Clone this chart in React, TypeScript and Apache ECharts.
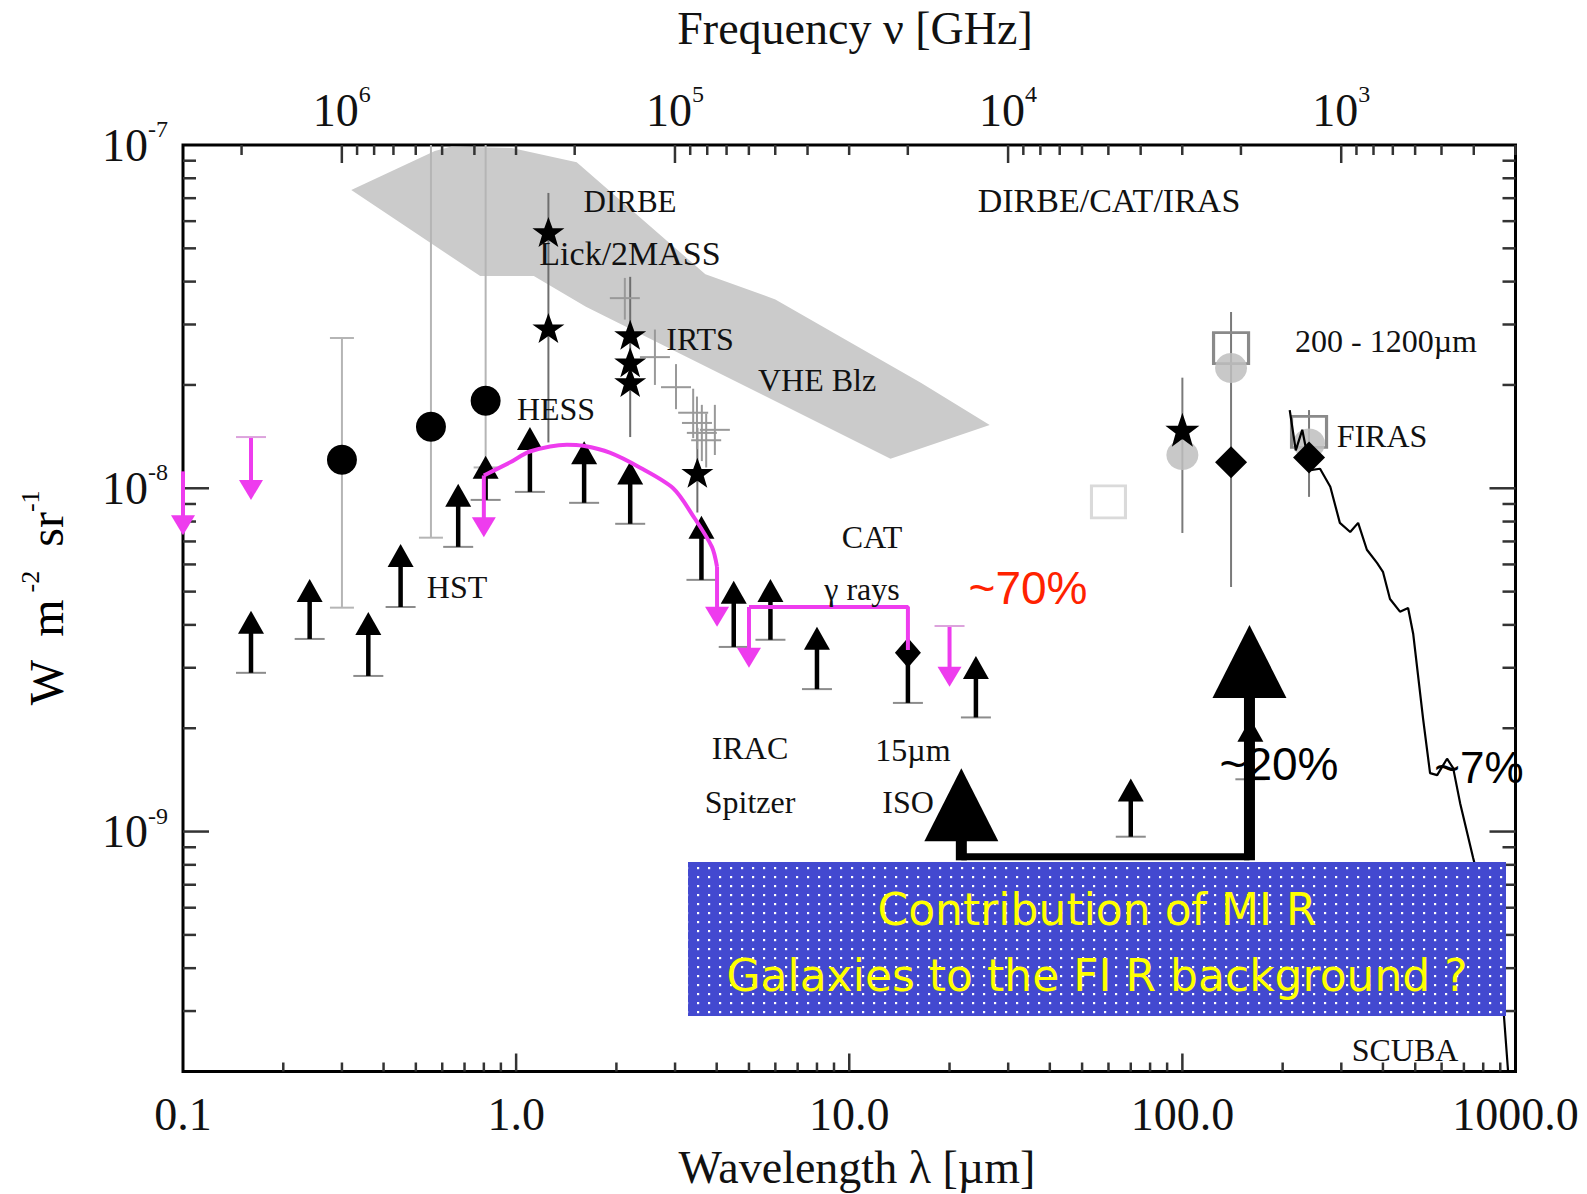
import React, { useEffect, useRef } from 'react';
import * as echarts from 'echarts';

const SERIF = '"Liberation Serif", "DejaVu Serif", "Times New Roman", serif';
const SANS = '"Liberation Sans", Arial, sans-serif';
const BOX_FONT = '"DejaVu Sans", "Liberation Sans", sans-serif';
const MAGENTA = '#ee3cee';

// Axis ranges: wavelength in µm, intensity νIν in W m^-2 sr^-1
const LAMBDA_MIN = 0.1;
const LAMBDA_MAX = 1000;
const I_MIN = 2e-10;
const I_MAX = 1e-7;
const C_UM_GHZ = 299792.458; // ν [GHz] = C / λ [µm]

// Shaded region: EBL constraints from VHE blazars (outline vertices)
const vheBandLambda = [0.32, 0.57, 0.64, 0.97, 1.52, 3.7, 6.0, 16.4, 26.4, 13.3, 1.62, 1.13, 0.78];
const vheBandValue = [7.4e-8, 9.6e-8, 9.9e-8, 9.8e-8, 8.9e-8, 4.2e-8, 3.55e-8, 2.03e-8, 1.53e-8, 1.22e-8, 3.38e-8, 4.15e-8, 4.15e-8];

// Galaxy-count lower limits (HST, IRAC, MIPS ...)
const lowerLimitLambda = [0.16, 0.24, 0.36, 0.45, 0.67, 0.81, 1.1, 1.6, 2.2, 3.6, 4.5, 5.8, 8.0, 24, 70, 160];
const lowerLimitValue = [3.82e-9, 4.73e-9, 3.79e-9, 5.98e-9, 8.95e-9, 1.08e-8, 1.31e-8, 1.19e-8, 1.04e-8, 7.22e-9, 4.67e-9, 4.73e-9, 3.43e-9, 2.82e-9, 1.24e-9, 1.85e-9];
const lowerLimitLow = [2.9e-9, 3.64e-9, 2.84e-9, 4.51e-9, 6.75e-9, 9.25e-9, 9.76e-9, 9.07e-9, 7.88e-9, 5.41e-9, 3.45e-9, 3.62e-9, 2.6e-9, 2.15e-9, 9.66e-10, 1.42e-9];

// ISO 15 µm
const isoLambda = [15];
const isoValue = [3.32e-9];
const isoLow = [2.37e-9];

// Optical absolute measurements (filled circles)
const optLambda = [0.3, 0.555, 0.81];
const optValue = [1.21e-8, 1.51e-8, 1.8e-8];
const optLow = [4.49e-9, 7.18e-9, 1.15e-8];
const optHigh = [2.74e-8, 1.0e-7, 1.0e-7];
const optTopCap = [1, 0, 0];

// DIRBE / Lick / 2MASS near-IR detections (stars)
const nirStarLambda = [1.25, 1.25, 2.2, 2.2, 2.2, 3.5];
const nirStarValue = [5.58e-8, 2.93e-8, 2.8e-8, 2.33e-8, 2.04e-8, 1.11e-8];
const nirBarLambda = [1.25, 2.2, 3.5];
const nirBarLow = [1.36e-8, 1.41e-8, 8.5e-9];
const nirBarHigh = [7.25e-8, 4.13e-8, 1.5e-8];

// IRTS spectrum points (grey crosses)
const irtsLambda = [2.12, 2.61, 3.02, 3.4, 3.49, 3.61, 3.72, 3.95];
const irtsValue = [3.58e-8, 2.41e-8, 1.97e-8, 1.66e-8, 1.55e-8, 1.45e-8, 1.38e-8, 1.48e-8];
const irtsLow = [3.1e-8, 2.0e-8, 1.7e-8, 1.4e-8, 1.3e-8, 1.2e-8, 1.15e-8, 1.25e-8];
const irtsHigh = [4.1e-8, 2.9e-8, 2.3e-8, 1.95e-8, 1.85e-8, 1.75e-8, 1.65e-8, 1.75e-8];

// CAT / HESS gamma-ray upper limits (magenta)
const catCurveLambda = [0.8, 0.96, 1.1, 1.42, 1.59, 1.91, 2.35, 2.96, 3.4, 3.87, 4.01];
const catCurveValue = [1.09e-8, 1.19e-8, 1.28e-8, 1.34e-8, 1.33e-8, 1.27e-8, 1.15e-8, 1.0e-8, 8.3e-9, 6.75e-9, 5.9e-9];
const catStepLambda = [5.0, 15.0, 15.0];
const catStepValue = [4.51e-9, 4.51e-9, 3.38e-9];
const upperLimitLambda = [0.1, 0.16, 0.8, 4.01, 5.0, 20];
const upperLimitTop = [1.12e-8, 1.41e-8, 1.09e-8, 5.9e-9, 4.51e-9, 3.97e-9];
const upperLimitTip = [7.3e-9, 9.25e-9, 7.2e-9, 3.95e-9, 3.0e-9, 2.64e-9];
const upperLimitCapped = [0, 1, 0, 0, 0, 1];

// Far-IR points (DIRBE / FIRAS)
const firStarLambda = [100];
const firStarValue = [1.48e-8];
const firDiamondLambda = [140, 240];
const firDiamondValue = [1.19e-8, 1.23e-8];
const firGreyLambda = [100, 140, 240];
const firGreyValue = [1.25e-8, 2.24e-8, 1.35e-8];
const firSquareLambda = [140, 240];
const firSquareValue = [2.56e-8, 1.46e-8];
const faintSquareLambda = [60];
const faintSquareValue = [9.13e-9];
const firBarLambda = [100, 140, 240];
const firBarLow = [7.41e-9, 5.16e-9, 9.44e-9];
const firBarHigh = [2.1e-8, 3.26e-8, 1.69e-8];

// FIRAS spectrum
const firasLambda = [210, 219, 229, 242, 259, 278, 297, 319, 337, 358, 384, 400, 420, 450, 476, 493, 528, 554, 582, 623, 650, 682, 746, 856, 918, 950];
const firasValue = [1.69e-8, 1.29e-8, 1.48e-8, 1.13e-8, 1.14e-8, 1.01e-8, 7.93e-9, 7.46e-9, 7.93e-9, 6.62e-9, 6.06e-9, 5.71e-9, 4.76e-9, 4.37e-9, 4.48e-9, 3.77e-9, 2.13e-9, 1.48e-9, 1.46e-9, 1.63e-9, 1.53e-9, 1.21e-9, 8.39e-10, 4.91e-10, 3.13e-10, 2.0e-10];

// MIR-to-FIR contribution arrows
const mirArrowLambda = [21.7, 159];
const mirArrowTip = [1.53e-9, 4.0e-9];
const mirConnectorValue = 8.44e-10;

const STAR_PATH =
  'path://M50,0 L63,36 L100,36 L70,58 L81,95 L50,73 L19,95 L30,58 L0,36 L37,36 Z';

const DOT_TILE =
  'data:image/svg+xml;charset=utf-8,' +
  encodeURIComponent(
    '<svg xmlns="http://www.w3.org/2000/svg" width="11" height="9"><rect x="4" y="3" width="2.2" height="2.2" fill="#ffffff"/></svg>'
  );

const zip2 = (a: number[], b: number[]) => a.map((v, i) => [v, b[i]]);

// Log-decade tick positions (k × 10^e) strictly inside a range
function decadeTicks(lo: number, hi: number, eFrom: number, eTo: number) {
  const out: [number, number][] = [];
  for (let e = eFrom; e <= eTo; e++) {
    for (let k = 1; k <= 9; k++) {
      const v = k * Math.pow(10, e);
      if (v > lo * 1.0001 && v < hi * 0.9999) out.push([v, k === 1 ? 1 : 0]);
    }
  }
  return out;
}

function powerLabel(v: number) {
  const e = Math.log10(v);
  const r = Math.round(e);
  if (Math.abs(e - r) > 1e-6) return '';
  return `{b|10}{s|${r}}`;
}

const powRich = {
  b: { fontFamily: SERIF, fontSize: 46, lineHeight: 56, color: '#111' },
  s: { fontFamily: SERIF, fontSize: 24, verticalAlign: 'top', color: '#111' },
};

const TICK_LEN: Record<number, [number, number]> = { 0: [9, 18], 1: [13, 26], 2: [13, 26], 3: [10, 18] };

function renderTick(params: any, api: any) {
  const cs = params.coordSys;
  const side = api.value(2);
  const major = api.value(3);
  const len = TICK_LEN[side][major ? 1 : 0];
  const p = api.coord([api.value(0), api.value(1)]);
  let shape;
  if (side === 0) shape = { x1: p[0], y1: cs.y + cs.height, x2: p[0], y2: cs.y + cs.height - len };
  else if (side === 1) shape = { x1: cs.x, y1: p[1], x2: cs.x + len, y2: p[1] };
  else if (side === 2) shape = { x1: cs.x + cs.width, y1: p[1], x2: cs.x + cs.width - len, y2: p[1] };
  else shape = { x1: p[0], y1: cs.y, x2: p[0], y2: cs.y + len };
  return { type: 'line', shape, style: { stroke: '#333', lineWidth: 2.5 } };
}

// Vertical error bar; dims: λ, low, high, capLow, capHigh
function errorBarRenderer(color: string, width: number, capHalf: number) {
  return (params: any, api: any) => {
    const x = api.value(0);
    const lo = api.coord([x, api.value(1)]);
    const hi = api.coord([x, api.value(2)]);
    const children: any[] = [
      { type: 'line', shape: { x1: lo[0], y1: lo[1], x2: hi[0], y2: hi[1] }, style: { stroke: color, lineWidth: width } },
    ];
    if (capHalf > 0 && api.value(3)) {
      children.push({ type: 'line', shape: { x1: lo[0] - capHalf, y1: lo[1], x2: lo[0] + capHalf, y2: lo[1] }, style: { stroke: color, lineWidth: width } });
    }
    if (capHalf > 0 && api.value(4)) {
      children.push({ type: 'line', shape: { x1: hi[0] - capHalf, y1: hi[1], x2: hi[0] + capHalf, y2: hi[1] }, style: { stroke: color, lineWidth: width } });
    }
    return { type: 'group', children };
  };
}

function renderCross(params: any, api: any) {
  const x = api.value(0);
  const c = api.coord([x, api.value(1)]);
  const lo = api.coord([x, api.value(2)]);
  const hi = api.coord([x, api.value(3)]);
  const style = { stroke: '#999999', lineWidth: 2 };
  return {
    type: 'group',
    children: [
      { type: 'line', shape: { x1: lo[0], y1: lo[1], x2: hi[0], y2: hi[1] }, style },
      { type: 'line', shape: { x1: c[0] - 15, y1: c[1], x2: c[0] + 15, y2: c[1] }, style },
    ],
  };
}

// Lower limit: marker on top, stem down to a capped lower bound
function renderLowerLimit(params: any, api: any) {
  const x = api.value(0);
  const p = api.coord([x, api.value(1)]);
  const c = api.coord([x, api.value(2)]);
  const marker = api.value(3);
  const children: any[] = [
    { type: 'line', shape: { x1: c[0] - 15, y1: c[1], x2: c[0] + 15, y2: c[1] }, style: { stroke: '#8c8c8c', lineWidth: 2 } },
    { type: 'line', shape: { x1: p[0], y1: c[1], x2: p[0], y2: p[1] }, style: { stroke: '#000', lineWidth: 4.5 } },
  ];
  if (marker === 1) {
    children.push({ type: 'polygon', shape: { points: [[p[0], p[1] - 15], [p[0] + 13, p[1]], [p[0], p[1] + 15], [p[0] - 13, p[1]]] }, style: { fill: '#000' } });
  } else {
    children.push({ type: 'polygon', shape: { points: [[p[0] - 13, p[1] + 2], [p[0] + 13, p[1] + 2], [p[0], p[1] - 21]] }, style: { fill: '#000' } });
  }
  return { type: 'group', children };
}

// Upper limit: magenta stem from the limit down to an arrowhead
function renderUpperLimit(params: any, api: any) {
  const x = api.value(0);
  const t = api.coord([x, api.value(1)]);
  const e = api.coord([x, api.value(2)]);
  const capped = api.value(3);
  const children: any[] = [
    { type: 'line', shape: { x1: t[0], y1: t[1], x2: e[0], y2: e[1] - 16 }, style: { stroke: MAGENTA, lineWidth: 4 } },
    { type: 'polygon', shape: { points: [[e[0] - 12, e[1] - 20], [e[0] + 12, e[1] - 20], [e[0], e[1]]] }, style: { fill: MAGENTA } },
  ];
  if (capped) {
    children.push({ type: 'line', shape: { x1: t[0] - 15, y1: t[1], x2: t[0] + 15, y2: t[1] }, style: { stroke: '#dca3dc', lineWidth: 2 } });
  }
  return { type: 'group', children };
}

function renderMirArrow(params: any, api: any) {
  const x = api.value(0);
  const tip = api.coord([x, api.value(1)]);
  const base = api.coord([x, api.value(2)]);
  const headH = 73;
  return {
    type: 'group',
    children: [
      { type: 'rect', shape: { x: tip[0] - 5.5, y: tip[1] + headH - 1, width: 11, height: base[1] + 3.5 - (tip[1] + headH - 1) }, style: { fill: '#000' } },
      { type: 'polygon', shape: { points: [[tip[0], tip[1]], [tip[0] + 37, tip[1] + headH], [tip[0] - 37, tip[1] + headH]] }, style: { fill: '#000' } },
    ],
  };
}

function renderBand(params: any, api: any) {
  if (params.dataIndex !== 0) return { type: 'group', children: [] };
  const pts = vheBandLambda.map((l, i) => api.coord([l, vheBandValue[i]]));
  return { type: 'polygon', shape: { points: pts }, style: { fill: '#cbcbcb' } };
}

function label(text: string, x: number, y: number, size = 32, extra: any = {}, z = 50) {
  return {
    type: 'text',
    x,
    y,
    z,
    silent: true,
    style: {
      text,
      font: `${size}px ${SERIF}`,
      fill: '#111',
      align: 'center',
      verticalAlign: 'middle',
      textAlign: 'center',
      textVerticalAlign: 'middle',
      ...extra,
    },
  };
}

const solid = (color: string) => ({ color, opacity: 1 });

function buildOption() {
  const lamTicks = decadeTicks(LAMBDA_MIN, LAMBDA_MAX, -1, 2);
  const iTicks = decadeTicks(I_MIN, I_MAX, -10, -8);
  const nuTicks = decadeTicks(C_UM_GHZ / LAMBDA_MAX, C_UM_GHZ / LAMBDA_MIN, 2, 6);

  const frameTickData = [
    ...lamTicks.map(([v, m]) => [v, 1e-8, 0, m]),
    ...iTicks.map(([v, m]) => [1, v, 1, m]),
    ...iTicks.map(([v, m]) => [1, v, 2, m]),
  ];
  const freqTickData = nuTicks.map(([v, m]) => [v, 1e-8, 3, m]);

  const series: any[] = [
    { type: 'custom', name: 'VHE Blz', renderItem: renderBand, data: zip2(vheBandLambda, vheBandValue), encode: { x: 0, y: 1 }, z: 1, silent: true },
    { type: 'custom', name: 'ticks', renderItem: renderTick, data: frameTickData, encode: { x: 0, y: 1 }, z: 3, silent: true },
    { type: 'custom', name: 'freqTicks', xAxisIndex: 1, renderItem: renderTick, data: freqTickData, encode: { x: 0, y: 1 }, z: 3, silent: true },
    {
      type: 'custom', name: 'opt bars', renderItem: errorBarRenderer('#b5b5b5', 2, 12),
      data: optLambda.map((l, i) => [l, optLow[i], optHigh[i], 1, optTopCap[i]]), encode: { x: 0, y: 1 }, z: 2, silent: true,
    },
    {
      type: 'custom', name: 'nir bars', renderItem: errorBarRenderer('#6e6e6e', 2, 0),
      data: nirBarLambda.map((l, i) => [l, nirBarLow[i], nirBarHigh[i], 0, 0]), encode: { x: 0, y: 1 }, z: 2, silent: true,
    },
    {
      type: 'custom', name: 'fir bars', renderItem: errorBarRenderer('#7a7a7a', 2, 0),
      data: firBarLambda.map((l, i) => [l, firBarLow[i], firBarHigh[i], 0, 0]), encode: { x: 0, y: 1 }, z: 2, silent: true,
    },
    {
      type: 'custom', name: 'IRTS', renderItem: renderCross,
      data: irtsLambda.map((l, i) => [l, irtsValue[i], irtsLow[i], irtsHigh[i]]), encode: { x: 0, y: 1 }, z: 2, silent: true,
    },
    {
      type: 'scatter', name: 'faint square', data: zip2(faintSquareLambda, faintSquareValue), symbol: 'rect', symbolSize: [34, 32],
      itemStyle: { color: 'rgba(0,0,0,0)', borderColor: '#dadada', borderWidth: 3, opacity: 1 }, z: 3, silent: true,
    },
    {
      type: 'scatter', name: 'fir squares', data: zip2(firSquareLambda, firSquareValue), symbol: 'rect', symbolSize: [35, 31],
      itemStyle: { color: 'rgba(0,0,0,0)', borderColor: '#8a8a8a', borderWidth: 3, opacity: 1 }, z: 3, silent: true,
    },
    {
      type: 'scatter', name: 'fir grey', data: zip2(firGreyLambda, firGreyValue), symbol: 'circle', symbolSize: [32, 30],
      itemStyle: { color: 'rgba(190,190,190,0.85)', opacity: 1 }, z: 3, silent: true,
    },
    {
      type: 'custom', name: 'lower limits', renderItem: renderLowerLimit,
      data: [
        ...lowerLimitLambda.map((l, i) => [l, lowerLimitValue[i], lowerLimitLow[i], 0]),
        ...isoLambda.map((l, i) => [l, isoValue[i], isoLow[i], 1]),
      ],
      encode: { x: 0, y: 1 }, z: 4, silent: true,
    },
    {
      type: 'scatter', name: 'optical', data: zip2(optLambda, optValue), symbol: 'circle', symbolSize: 30,
      itemStyle: solid('#000'), z: 4, silent: true,
    },
    {
      type: 'scatter', name: 'near-IR', data: zip2(nirStarLambda, nirStarValue), symbol: STAR_PATH, symbolSize: [32, 30],
      itemStyle: solid('#000'), z: 4, silent: true,
    },
    {
      type: 'scatter', name: 'fir star', data: zip2(firStarLambda, firStarValue), symbol: STAR_PATH, symbolSize: [34, 34],
      itemStyle: solid('#000'), z: 4, silent: true,
    },
    {
      type: 'scatter', name: 'fir diamonds', data: zip2(firDiamondLambda, firDiamondValue), symbol: 'diamond', symbolSize: [32, 32],
      itemStyle: solid('#000'), z: 4, silent: true,
    },
    {
      type: 'line', name: 'FIRAS', data: zip2(firasLambda, firasValue), showSymbol: false, symbol: 'none',
      lineStyle: { color: '#000', width: 2.2, opacity: 1 }, z: 4, silent: true, clip: true,
    },
    {
      type: 'line', name: 'CAT', data: zip2(catCurveLambda, catCurveValue), showSymbol: false, symbol: 'none', smooth: 0.3,
      lineStyle: { color: MAGENTA, width: 4, opacity: 1 }, z: 5, silent: true,
    },
    {
      type: 'line', name: 'CAT step', data: zip2(catStepLambda, catStepValue), showSymbol: false, symbol: 'none',
      lineStyle: { color: MAGENTA, width: 4, opacity: 1 }, z: 5, silent: true,
    },
    {
      type: 'custom', name: 'upper limits', renderItem: renderUpperLimit,
      data: upperLimitLambda.map((l, i) => [l, upperLimitTop[i], upperLimitTip[i], upperLimitCapped[i]]),
      encode: { x: 0, y: 1 }, z: 5, silent: true,
    },
    {
      type: 'line', name: 'MIR connector', data: mirArrowLambda.map((l) => [l, mirConnectorValue]), showSymbol: false, symbol: 'none',
      lineStyle: { color: '#000', width: 7, cap: 'butt', opacity: 1 }, z: 6, silent: true,
    },
    {
      type: 'custom', name: 'MIR arrows', renderItem: renderMirArrow,
      data: mirArrowLambda.map((l, i) => [l, mirArrowTip[i], mirConnectorValue]), encode: { x: 0, y: 1 }, z: 6, silent: true,
    },
  ];

  const graphic: any[] = [
    label('DIRBE', 630, 201, 31),
    label('Lick/2MASS', 630, 253, 34),
    label('IRTS', 700, 339),
    label('VHE Blz', 817, 380),
    label('HESS', 556, 409),
    label('HST', 457, 587),
    label('DIRBE/CAT/IRAS', 1109, 200, 34),
    label('200 - 1200µm', 1386, 341),
    label('FIRAS', 1382, 436),
    label('CAT', 872, 537),
    label('γ rays', 862, 589),
    label('IRAC', 750, 748),
    label('Spitzer', 750, 802),
    label('15µm', 913, 750),
    label('ISO', 908, 802),
    label('SCUBA', 1405, 1050),
    label('~70%', 1028, 588, 46, { font: `46px ${SANS}`, fill: '#ff2200' }),
    label('~20%', 1279, 764, 46, { font: `46px ${SANS}`, fill: '#000' }),
    label('~7%', 1479, 767, 44, { font: `44px ${SANS}`, fill: '#000' }),
    label('Frequency ν [GHz]', 855, 28, 46),
    label('Wavelength λ [µm]', 857, 1167, 46),
    {
      type: 'text',
      x: 46,
      y: 598,
      rotation: Math.PI / 2,
      z: 50,
      silent: true,
      style: {
        text: '{a|W  m}{s| -2}{a|  sr}{s|-1}',
        rich: {
          a: { fontFamily: SERIF, fontSize: 48, lineHeight: 58, color: '#111' },
          s: { fontFamily: SERIF, fontSize: 26, verticalAlign: 'top', color: '#111' },
        },
        align: 'center',
        verticalAlign: 'middle',
        textAlign: 'center',
        textVerticalAlign: 'middle',
      },
    },
    { type: 'rect', z: 100, silent: true, shape: { x: 688, y: 862, width: 818, height: 154 }, style: { fill: '#4349d0' } },
    {
      type: 'rect', z: 101, silent: true, shape: { x: 688, y: 862, width: 818, height: 154 },
      style: { fill: { image: DOT_TILE, repeat: 'repeat', imageWidth: 11, imageHeight: 9 } },
    },
    label('Contribution of MI R', 1097, 909, 44, { font: `44px ${BOX_FONT}`, fill: '#ffff00' }, 102),
    label('Galaxies to the FI R background ?', 1097, 975, 44, { font: `44px ${BOX_FONT}`, fill: '#ffff00' }, 102),
  ];

  return {
    animation: false,
    backgroundColor: '#ffffff',
    grid: {
      left: 183, right: 71.5, top: 145, bottom: 122.5,
      show: true, borderColor: '#000', borderWidth: 3, backgroundColor: 'rgba(0,0,0,0)',
      containLabel: false, outerBoundsMode: 'none',
    },
    xAxis: [
      {
        type: 'log', min: LAMBDA_MIN, max: LAMBDA_MAX, position: 'bottom',
        axisLine: { show: false }, axisTick: { show: false }, splitLine: { show: false },
        axisLabel: { formatter: (v: number) => Number(v).toFixed(1), margin: 20, fontFamily: SERIF, fontSize: 46, color: '#111' },
      },
      {
        type: 'log', min: C_UM_GHZ / LAMBDA_MAX, max: C_UM_GHZ / LAMBDA_MIN, inverse: true, position: 'top',
        axisLine: { show: false }, axisTick: { show: false }, splitLine: { show: false },
        axisLabel: { formatter: powerLabel, margin: 7, rich: powRich },
      },
    ],
    yAxis: [
      {
        type: 'log', min: I_MIN, max: I_MAX,
        axisLine: { show: false }, axisTick: { show: false }, splitLine: { show: false },
        axisLabel: { formatter: powerLabel, margin: 15, rich: powRich },
      },
    ],
    series,
    graphic,
  };
}

export default function App() {
  const ref = useRef<HTMLDivElement>(null);
  useEffect(() => {
    if (!ref.current) return;
    const chart = echarts.init(ref.current, null, { renderer: 'svg' });
    chart.setOption(buildOption() as any);
    return () => chart.dispose();
  }, []);
  return (
    <div
      ref={ref}
      style={{ position: 'fixed', left: 0, top: 0, width: 1587, height: 1194, background: '#ffffff' }}
    />
  );
}
